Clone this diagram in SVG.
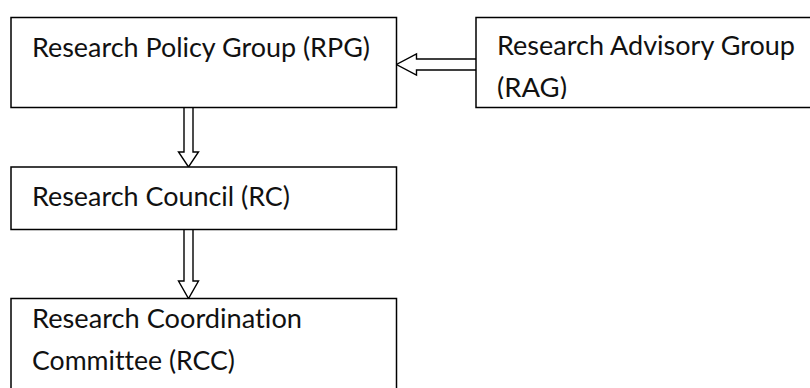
<svg xmlns="http://www.w3.org/2000/svg" width="810" height="388" viewBox="0 0 810 388">
<style>
.box{fill:#fff;stroke:#000;stroke-width:1.5}
.arr{fill:#fff;stroke:#000;stroke-width:1.4;stroke-linejoin:miter}
.t{font-family:Lato,"Open Sans","Liberation Sans",sans-serif;font-size:26.5px;fill:#111;font-variant-ligatures:none}
</style>
<defs>
<clipPath id="ragclip"><rect x="477" y="18" width="340" height="81"/></clipPath>
</defs>
<rect width="810" height="388" fill="#fff"/>
<g id="connectors">
<polyline class="arr" points="476,59 416.5,59 416.5,54 396.5,64.5 416.5,75 416.5,70 476,70"/>
<polyline class="arr" points="184,107.5 184,152 178.5,152 188.5,167 198.5,152 193,152 193,107.5"/>
<polyline class="arr" points="184,229.5 184,281 178.5,281 188.5,298.5 198.5,281 193,281 193,229.5"/>
</g>
<g id="rpg">
<rect class="box" x="11" y="17.5" width="385.5" height="90"/>
<text class="t" x="32" y="57" textLength="338" lengthAdjust="spacingAndGlyphs">Research Policy Group (RPG)</text>
</g>
<g id="rag">
<rect class="box" x="476" y="17.5" width="345" height="90"/>
<g clip-path="url(#ragclip)">
<text class="t" x="497" y="55" textLength="298" lengthAdjust="spacingAndGlyphs">Research Advisory Group</text>
<text class="t" x="497" y="96.7" textLength="70" lengthAdjust="spacingAndGlyphs">(RAG)</text>
</g>
</g>
<g id="rc">
<rect class="box" x="11" y="167" width="385.5" height="62.5"/>
<text class="t" x="32" y="206" textLength="258" lengthAdjust="spacingAndGlyphs">Research Council (RC)</text>
</g>
<g id="rcc">
<rect class="box" x="11" y="298.5" width="385.5" height="100"/>
<text class="t" x="32" y="328.3" textLength="270" lengthAdjust="spacingAndGlyphs">Research Coordination</text>
<text class="t" x="32" y="370" textLength="203" lengthAdjust="spacingAndGlyphs">Committee (RCC)</text>
</g>
</svg>
